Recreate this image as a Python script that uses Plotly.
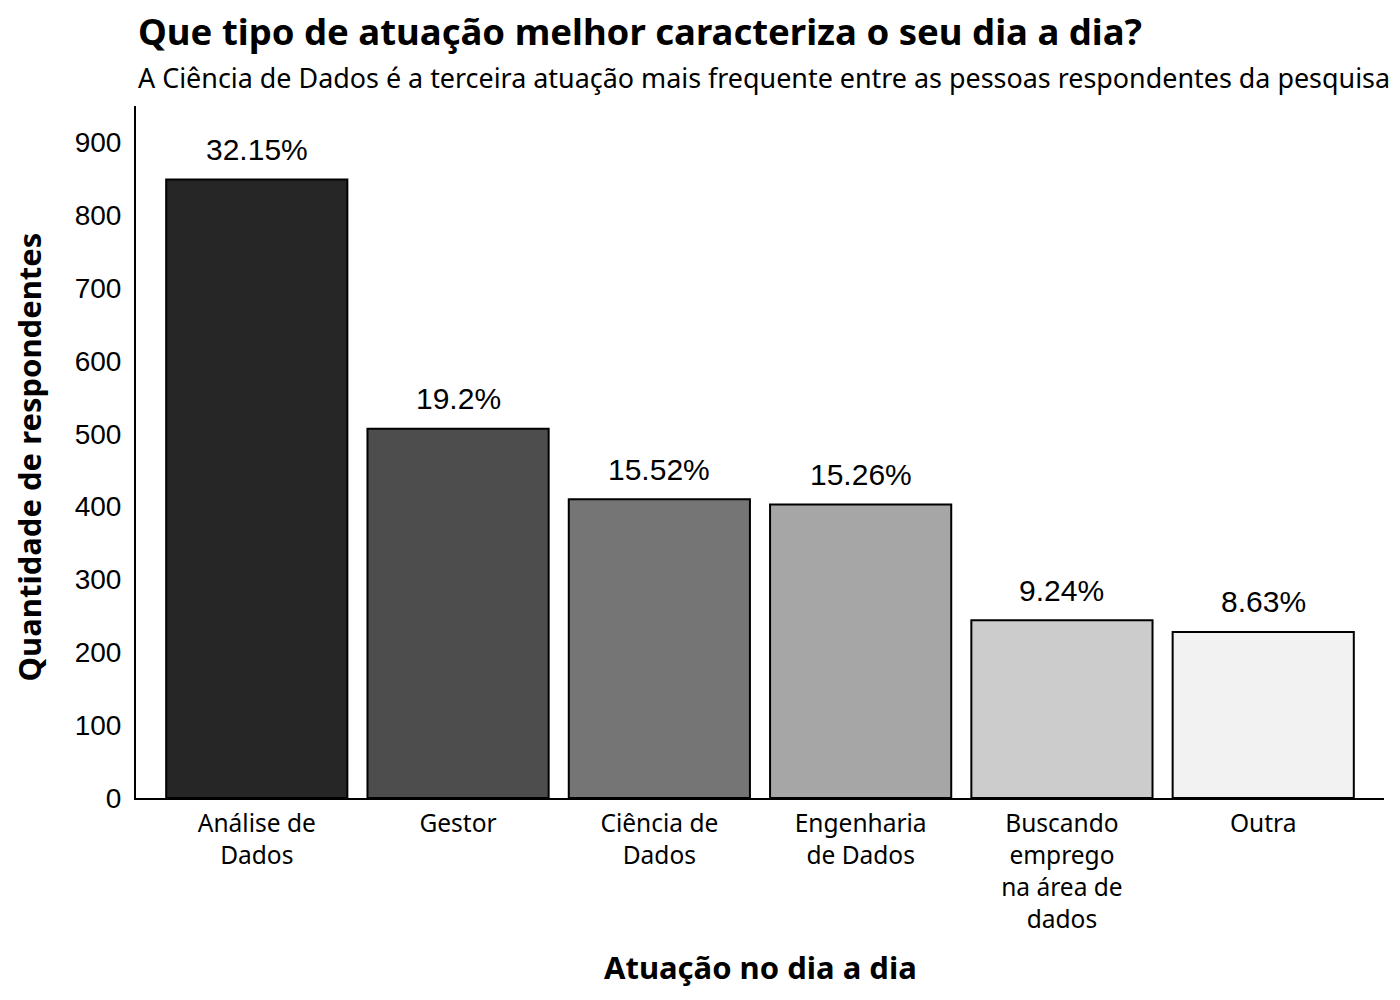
import plotly.graph_objects as go

categories = ["Análise de<br>Dados", "Gestor", "Ciência de<br>Dados", "Engenharia<br>de Dados",
              "Buscando<br>emprego<br>na área de<br>dados", "Outra"]
counts = [849, 507, 410, 403, 244, 228]
colors = ["#262626", "#4D4D4D", "#757575", "#A6A6A6", "#CCCCCC", "#F2F2F2"]
y_ticks = [0, 100, 200, 300, 400, 500, 600, 700, 800, 900]

total = sum(counts)
pct_labels = [f"{round(c / total * 100, 2)}%" for c in counts]

TEXT_FONT = "Noto Sans"
NUM_FONT = "Liberation Sans"

fig = go.Figure()
fig.add_trace(go.Bar(
    x=list(range(len(categories))), y=counts, width=0.9,
    marker=dict(color=colors, line=dict(color="black", width=2)),
    hoverinfo="skip",
))

for i, (c, lab) in enumerate(zip(counts, pct_labels)):
    fig.add_annotation(x=i, y=c, text=lab, showarrow=False, xref="x", yref="y",
                       yanchor="middle", yshift=30,
                       font=dict(family=NUM_FONT, size=30, color="black"))

fig.update_layout(
    width=1400, height=1000,
    margin=dict(l=136, r=16, t=106, b=202),
    paper_bgcolor="white", plot_bgcolor="white",
    showlegend=False,
    xaxis=dict(range=[-0.6, 5.6], tickmode="array", tickvals=list(range(len(categories))),
               ticktext=categories, showline=True, linecolor="black", linewidth=2,
               showgrid=False, zeroline=False, ticks="", ticklabelstandoff=3,
               tickfont=dict(family=TEXT_FONT, size=24.5, color="black")),
    yaxis=dict(range=[0, 950], tickmode="array", tickvals=y_ticks,
               showline=True, linecolor="black", linewidth=2,
               showgrid=False, zeroline=False, ticks="", ticklabelstandoff=7,
               tickfont=dict(family=NUM_FONT, size=28, color="black")),
)

fig.add_annotation(text="<b>Que tipo de atuação melhor caracteriza o seu dia a dia?</b>",
                   xref="paper", yref="paper", x=0, y=1.109, xanchor="left", yanchor="middle",
                   showarrow=False, font=dict(family=TEXT_FONT, size=36.5, color="black"))
fig.add_annotation(text="A Ciência de Dados é a terceira atuação mais frequente entre as pessoas respondentes da pesquisa",
                   xref="paper", yref="paper", x=0, y=1.0419, xanchor="left", yanchor="middle",
                   showarrow=False, font=dict(family=TEXT_FONT, size=26.9, color="black"))
fig.add_annotation(text="<b>Quantidade de respondentes</b>", textangle=-90,
                   xref="paper", yref="paper", x=-0.085, y=0.4935, xanchor="center", yanchor="middle",
                   showarrow=False, font=dict(family=TEXT_FONT, size=31, color="black"))
fig.add_annotation(text="<b>Atuação no dia a dia</b>",
                   xref="paper", yref="paper", x=0.5, y=-0.2442, xanchor="center", yanchor="middle",
                   showarrow=False, font=dict(family=TEXT_FONT, size=31, color="black"))

fig.write_html("out.html")
